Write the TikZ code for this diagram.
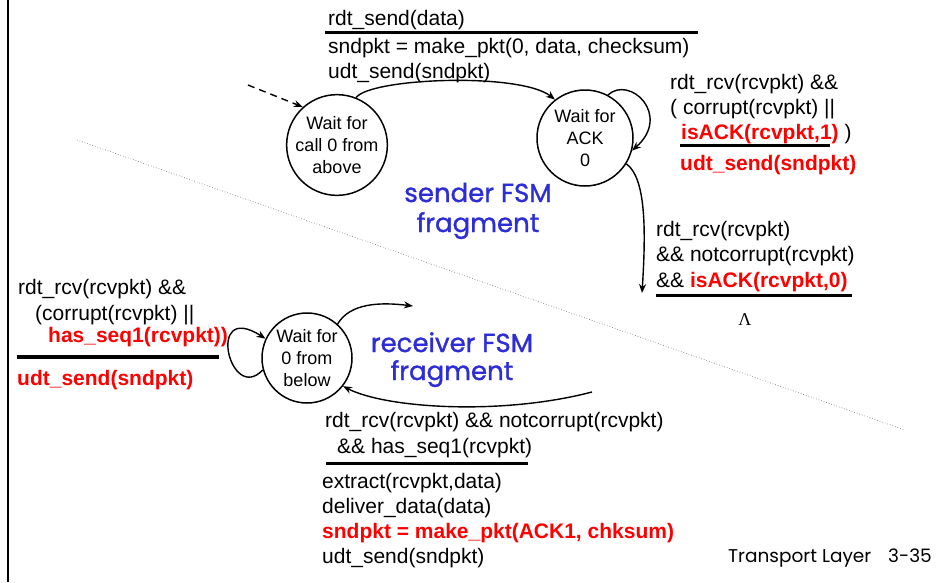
\documentclass[tikz,border=0pt]{standalone}
\usepackage{fontspec}
\setmainfont{Liberation Sans}
\newfontfamily\handfont[RawFeature={embolden=1.2}]{Poppins}
\newfontfamily\plainhand{Poppins}
\newfontfamily\symbfont{Liberation Serif}
\usetikzlibrary{arrows.meta}
\definecolor{fsmred}{RGB}{255,0,0}
\definecolor{fsmblue}{RGB}{45,45,215}
\newcommand{\hotpart}[1]{\textcolor{fsmred}{\bfseries #1}}
\begin{document}
\begin{tikzpicture}[x=1pt,y=-1pt,
  lbl/.style={anchor=base west, inner sep=0pt, font=\fontsize{21}{25}\selectfont},
  hot/.style={lbl, text=fsmred, font=\fontsize{21}{25}\selectfont\bfseries},
  state/.style={circle, draw, line width=1.5pt, minimum size=96pt, inner sep=0pt,
    align=center, font=\fontsize{18}{22}\selectfont},
  rulebar/.style={line width=3pt},
  edge/.style={line width=1.4pt, -{Stealth[length=9pt,width=7pt]}},
  note/.style={anchor=base, inner sep=0pt, text=fsmblue,
    font=\handfont\fontsize{26}{30}\selectfont},
  footer/.style={anchor=base west, inner sep=0pt, font=\plainhand\fontsize{18.5}{22}\selectfont}
]
\useasboundingbox (0,0) rectangle (951,582);

% page edge on the left
\draw[line width=2.5pt] (8,0) -- (8,582);

% separator between the two fragments
\coordinate (sepA) at (77,140);
\coordinate (sepB) at (905,430);
\draw[gray, dotted, line width=0.7pt] (sepA) -- (sepB);

% states
\node[state] (s0) at (337,145) {Wait for\\call 0 from\\above};
\node[state] (s1) at (585,138) {Wait for\\ACK\\0};
\node[state, minimum size=90pt] (s2) at (307,358) {Wait for\\0 from\\below};

% sender transitions
\coordinate (init) at (248,85);
\draw[edge, dash pattern=on 7pt off 5pt] (init) -- (s0.132);
\draw[edge] (s0.68) .. controls (370,78) and (520,72) .. (s1.128);
\draw[edge] (s1.62) .. controls (630,75) and (672,115) .. (s1.-15);
\draw[edge] (s1.-32) .. controls (646,178) and (646,230) .. (642,293);

% receiver transitions
\draw[edge] (s2.195) .. controls (230,405) and (205,300) .. (s2.155);
\coordinate (rcvOut) at (413,306);
\draw[edge] (s2.48) .. controls (350,303) and (380,302) .. (rcvOut);
\coordinate (rcvIn) at (592,392);
\draw[edge] (rcvIn) .. controls (500,416) and (385,408) .. (s2.-38);

% label: rdt_send
\node[lbl] (t1) at (328,25) {rdt\_send(data)};
\draw[rulebar] (325,32) -- (698,32);
\node[lbl] (t2) at (328,53) {sndpkt = make\_pkt(0, data, checksum)};
\node[lbl] (t3) at (328,78) {udt\_send(sndpkt)};

% label: self loop on Wait for ACK 0
\node[lbl] (r1) at (670,89) {rdt\_rcv(rcvpkt) \&\&};
\node[lbl] (r2) at (670,114) {( corrupt(rcvpkt) ||};
\node[lbl] (r3) at (681,139) {\hotpart{isACK(rcvpkt,1)} )};
\draw[rulebar] (680,145) -- (830,145);
\node[hot] (r4) at (680,170) {udt\_send(sndpkt)};

% label: ACK 0 received
\node[lbl] (m1) at (656,236) {rdt\_rcv(rcvpkt)};
\node[lbl] (m2) at (656,261) {\&\& notcorrupt(rcvpkt)};
\node[lbl] (m3) at (656,287) {\&\& \hotpart{isACK(rcvpkt,0)}};
\draw[rulebar] (656,295) -- (852,295);
\node[anchor=base, inner sep=0pt, font=\symbfont\fontsize{18}{20}\selectfont] (lam) at (745,325) {Λ};

% label: receiver self loop
\node[lbl] (l1) at (18,294) {rdt\_rcv(rcvpkt) \&\&};
\node[lbl] (l2) at (35,320) {(corrupt(rcvpkt) ||};
\node[hot] (l3) at (48,342) {has\_seq1(rcvpkt))};
\draw[line width=4pt] (17,357) -- (219,357);
\node[hot] (l4) at (17,385) {udt\_send(sndpkt)};

% label: receiver delivery
\node[lbl] (b1) at (325,427) {rdt\_rcv(rcvpkt) \&\& notcorrupt(rcvpkt)};
\node[lbl] (b2) at (337,453) {\&\& has\_seq1(rcvpkt)};
\draw[rulebar] (326,463) -- (528,463);
\node[lbl] (b3) at (322,488) {extract(rcvpkt,data)};
\node[lbl] (b4) at (322,513) {deliver\_data(data)};
\node[hot] (b5) at (322,538) {sndpkt = make\_pkt(ACK1, chksum)};
\node[lbl] (b6) at (322,563) {udt\_send(sndpkt)};

% fragment captions
\node[note] (n1) at (478,202) {sender FSM};
\node[note] (n2) at (478,232) {fragment};
\node[note] (n3) at (452,352) {receiver FSM};
\node[note] (n4) at (452,380) {fragment};

% footer
\node[footer] (f1) at (728,562) {Transport Layer};
\node[footer] (f2) at (888,562) {3-35};
\end{tikzpicture}
\end{document}
